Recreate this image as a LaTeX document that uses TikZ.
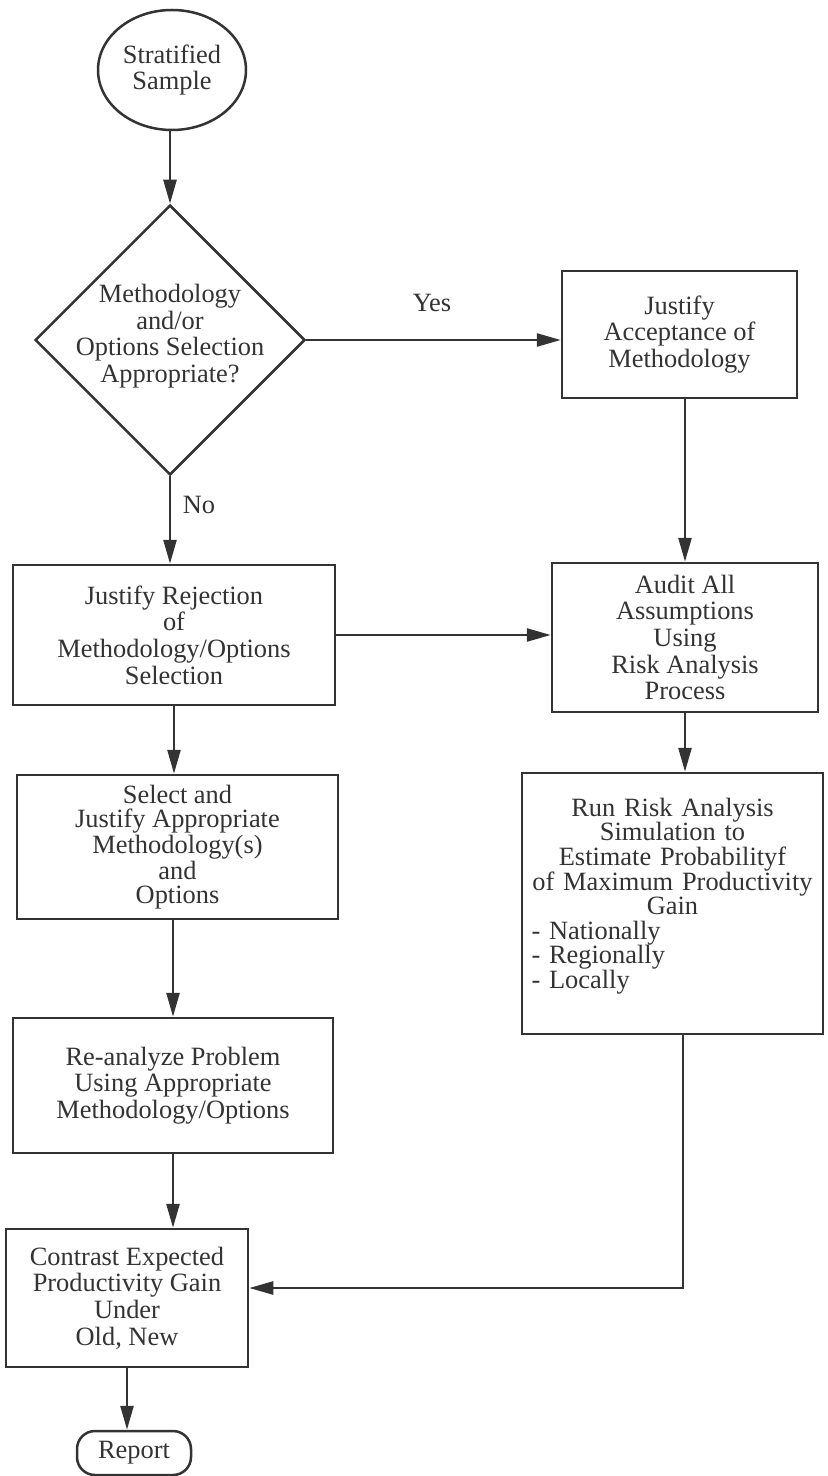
\documentclass[tikz,border=0pt]{standalone}
\usepackage{fontspec}
\setmainfont{Liberation Serif}
\usetikzlibrary{arrows.meta,shapes.geometric}
\definecolor{ink}{HTML}{333333}
\tikzset{
  txt/.style={text=ink, align=center, inner sep=0pt,
    font=\fontsize{13.2}{13.3}\selectfont},
  stepbox/.style={txt, draw=ink, line width=1.25pt, rectangle},
  flow/.style={draw=ink, line width=1.25pt,
    -{Triangle[length=12pt,width=6.5pt]}},
}
\begin{document}
\begin{tikzpicture}[x=0.5pt,y=-0.5pt]
\useasboundingbox[fill=white] (0,0) rectangle (828,1476);

% start and decision
\node[txt, ellipse, draw=ink, line width=1.25pt, minimum width=74pt,
  minimum height=60pt] (start) at (172,70) {Stratified\\Sample};
\node[diamond, draw=ink, line width=1.25pt, inner sep=0pt,
  minimum width=135pt, minimum height=135pt] (dec) at (170,340) {};
\node[txt] (dectxt) at (170,336)
  {Methodology\\and/or\\Options Selection\\Appropriate?};

% right column
\node[stepbox, minimum width=117.5pt, minimum height=63.5pt] (acc)
  at (679.5,334.5) {Justify\\Acceptance of\\Methodology};
\node[stepbox, minimum width=133pt, minimum height=74.5pt] (aud)
  at (685,637.5) {Audit All\\Assumptions\\Using\\Risk Analysis\\Process};
\node[stepbox, minimum width=150.5pt, minimum height=130.5pt] (run)
  at (672.5,903.5) {};
\node[txt, text width=141pt, font=\fontsize{13.2}{12.3}\selectfont]
  (runtxt) at (672.5,896)
  {Run Risk Analysis\\Simulation to\\Estimate Probabilityf\\
   of Maximum Productivity\\Gain\\
   \makebox[\hsize][l]{- Nationally}\\
   \makebox[\hsize][l]{- Regionally}\\
   \makebox[\hsize][l]{- Locally}};

% left column
\node[stepbox, minimum width=161pt, minimum height=70pt] (rej)
  at (174,635) {Justify Rejection\\of\\Methodology/Options\\Selection};
\node[stepbox, minimum width=160.5pt, minimum height=72pt,
  font=\fontsize{13.2}{11.9}\selectfont] (sel)
  at (177.5,847) {Select and\\Justify Appropriate\\Methodology(s)\\and\\Options};
\node[stepbox, minimum width=160pt, minimum height=67.5pt] (rea)
  at (173,1085.5) {Re-analyze Problem\\Using Appropriate\\Methodology/Options};
\node[stepbox, minimum width=121pt, minimum height=69pt] (con)
  at (127,1298) {Contrast Expected\\Productivity Gain\\Under\\Old, New};
\node[stepbox, rounded corners=9pt, minimum width=57pt,
  minimum height=22pt] (rep) at (134,1453) {Report};

% branch labels
\node[txt] (yes) at (432,303) {Yes};
\node[txt] (no) at (199,505) {No};

% connectors
\draw[flow] (start.south -| dec.north) -- (dec.north);
\draw[flow] (dec.east) -- (dec.east -| acc.west);
\draw[flow] (dec.south) -- (rej.north -| dec.south);
\draw[flow] (aud.north |- acc.south) -- (aud.north);
\draw[flow] (rej.east) -- (rej.east -| aud.west);
\draw[flow] (rej.south) -- (sel.north -| rej.south);
\draw[flow] (sel.south -| rea.north) -- (rea.north);
\draw[flow] (rea.south) -- (rea.south |- con.north);
\draw[flow] (aud.south) -- (aud.south |- run.north);
\coordinate (bend) at (683,1288);
\draw[flow] (run.south -| bend) -- (bend) -- (bend -| con.east);
\draw[flow] (con.south) -- (con.south |- rep.north);
\end{tikzpicture}
\end{document}
